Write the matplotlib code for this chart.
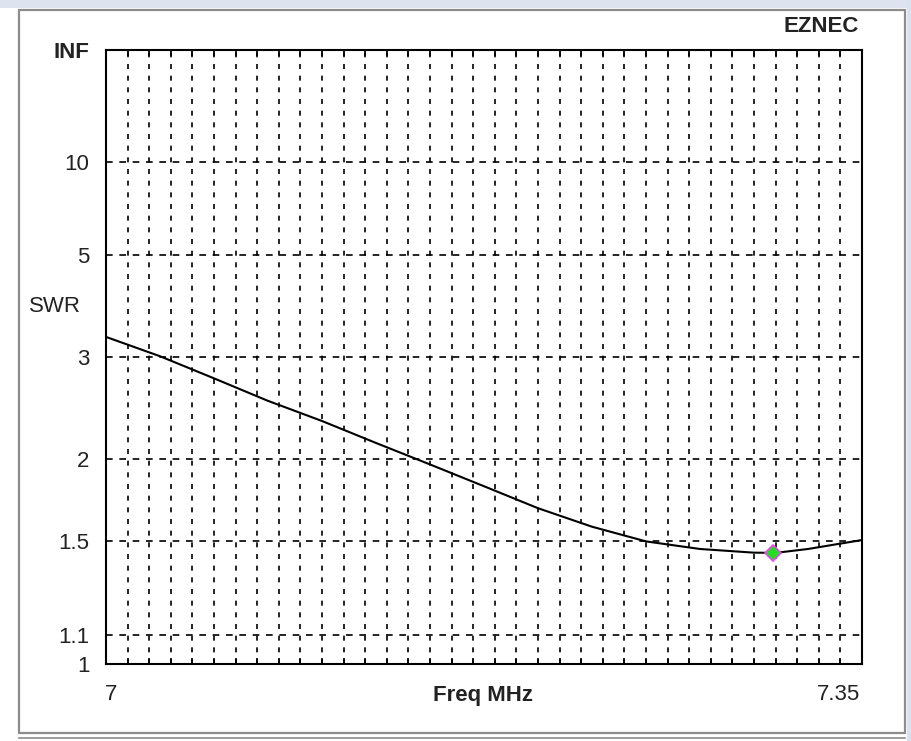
import matplotlib
matplotlib.use('Agg')
import matplotlib.pyplot as plt
import numpy as np
from matplotlib.patches import Rectangle
from matplotlib.lines import Line2D

# SWR curve
freq = [7.000, 7.025, 7.050, 7.075, 7.100, 7.125, 7.150, 7.175,
        7.200, 7.225, 7.250, 7.275, 7.300, 7.310, 7.325, 7.350]
swr = [3.28, 3.01, 2.74, 2.50, 2.31, 2.125, 1.963, 1.815,
       1.68, 1.576, 1.499, 1.461, 1.443, 1.442, 1.461, 1.506]
marker_freq = 7.309
marker_swr = 1.443

swr_ticks = [1, 1.1, 1.5, 2, 3, 5, 10, np.inf]
swr_labels = ['1', '1.1', '1.5', '2', '3', '5', '10', 'INF']
freq_grid = np.round(np.arange(7.0, 7.3501, 0.01), 2)


def refl(s):
    # EZNEC draws SWR on a reflection coefficient scale
    s = np.asarray(s, dtype=float)
    return np.where(np.isinf(s), 1.0, (s - 1) / (s + 1))


plt.rcParams['font.family'] = ['Liberation Sans', 'DejaVu Sans']
W, H = 911, 741
fig = plt.figure(figsize=(W / 100, H / 100), dpi=100)

# window decoration
fig.patches.append(Rectangle((0, 1 - 8 / H), 1, 8 / H, transform=fig.transFigure,
                             facecolor='#dde4ef', edgecolor='none', zorder=0))
fig.patches.append(Rectangle((907 / W, 0), 4 / W, 1, transform=fig.transFigure,
                             facecolor='#d9e3f0', edgecolor='none', zorder=0))
fig.patches.append(Rectangle((19 / W, 1 - 733 / H), 886 / W, 723 / H, transform=fig.transFigure,
                             fill=False, edgecolor='#8c8c8c', lw=1.6, zorder=1))
fig.lines.append(Line2D([19 / W, 905 / W], [1 - 738 / H, 1 - 738 / H], transform=fig.transFigure,
                        color='#8c8c8c', lw=1.2))

ax = fig.add_axes([106 / W, 77 / H, 756 / W, 614 / H])
ax.set_xlim(7.0, 7.35)
ax.set_ylim(0, 1)

for f in freq_grid[1:-1]:
    ax.axvline(f, color='black', lw=1.2, ls=(0, (3, 4)), zorder=1)
for s in swr_ticks[1:-1]:
    ax.axhline(refl(s), color='black', lw=1.2, ls=(0, (4, 4)), zorder=1)

ax.plot(freq, refl(swr), color='black', lw=1.5, zorder=3)
ax.plot([marker_freq], [refl(marker_swr)], marker='D', ms=8, mfc='#22dd22',
        mec='#ee44ee', mew=1.2, ls='none', zorder=4)

ax.set_yticks(refl(swr_ticks))
ax.set_yticklabels(swr_labels)
ax.tick_params(axis='y', length=0, pad=12, labelsize=16, labelcolor='#222222')
for lab in ax.get_yticklabels():
    if lab.get_text() == 'INF':
        lab.set_fontweight('bold')
ax.set_xticks(freq_grid)
ax.set_xticklabels([])
ax.tick_params(axis='x', direction='in', length=4, width=1.2, top=True)
for sp in ax.spines.values():
    sp.set_linewidth(1.5)

fig.text(29 / W, 1 - 307 / H, 'SWR', ha='left', va='center', fontsize=16, color='#222222')
fig.text(105 / W, 1 - 695 / H, '7', ha='left', va='center', fontsize=16, color='#222222')
fig.text(860 / W, 1 - 695 / H, '7.35', ha='right', va='center', fontsize=16, color='#222222')
fig.text(483 / W, 1 - 695 / H, 'Freq MHz', ha='center', va='center', fontsize=16,
         fontweight='bold', color='#222222')
fig.text(859 / W, 1 - 27 / H, 'EZNEC', ha='right', va='center', fontsize=16,
         fontweight='bold', color='#222222')

fig.savefig('out.png', dpi=100, facecolor='white')
